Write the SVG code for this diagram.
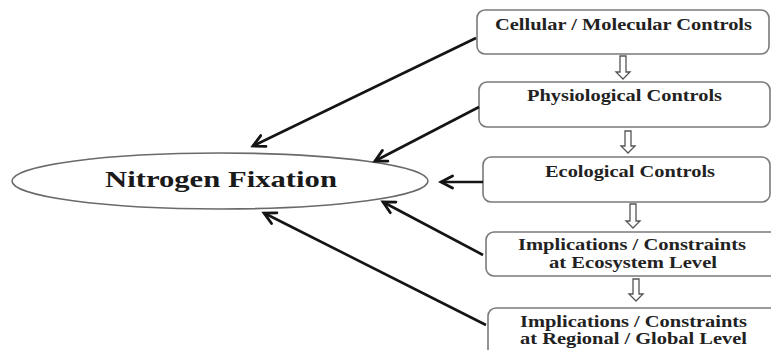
<svg xmlns="http://www.w3.org/2000/svg" width="771" height="350" viewBox="0 0 771 350">
<style>
.box{fill:#fff;stroke:#7a7a7a;stroke-width:1.6}
.t{font-family:"Liberation Serif","Times New Roman",serif;font-weight:bold;font-size:16px;fill:#222;text-anchor:start}
.big{font-family:"Liberation Serif","Times New Roman",serif;font-weight:bold;font-size:23px;fill:#1a1a1a}
.conn{stroke:#141414;stroke-width:2.6;fill:none;marker-end:url(#ah)}
.hollow{fill:#fff;stroke:#555;stroke-width:1.3;stroke-linejoin:miter}
</style>
<defs>
<marker id="ah" markerUnits="userSpaceOnUse" markerWidth="16" markerHeight="16" refX="13" refY="7" orient="auto" viewBox="0 0 16 14">
<path d="M1.5,1 L13,7 L1.5,13" fill="none" stroke="#141414" stroke-width="2.8" stroke-linecap="round" stroke-linejoin="miter"/>
</marker>
</defs>
<rect width="771" height="350" fill="#fff"/>

<g id="nitrogen-fixation">
<ellipse cx="220" cy="181" rx="208" ry="28" fill="#fff" stroke="#6a6a6a" stroke-width="1.6"/>
<text class="big" x="105" y="187" textLength="232" lengthAdjust="spacingAndGlyphs">Nitrogen Fixation</text>
</g>

<g id="cellular">
<rect class="box" x="477" y="10" width="292" height="44" rx="8"/>
<text class="t" x="495" y="30" textLength="257" lengthAdjust="spacingAndGlyphs">Cellular / Molecular Controls</text>
</g>

<g id="physiological">
<rect class="box" x="479" y="82" width="291" height="45" rx="8"/>
<text class="t" x="527" y="101" textLength="195" lengthAdjust="spacingAndGlyphs">Physiological Controls</text>
</g>

<g id="ecological">
<rect class="box" x="483" y="157" width="287" height="45" rx="8"/>
<text class="t" x="545" y="177" textLength="170" lengthAdjust="spacingAndGlyphs">Ecological Controls</text>
</g>

<g id="ecosystem">
<rect class="box" x="486" y="232" width="295" height="44" rx="8"/>
<text class="t" x="518" y="250" textLength="228" lengthAdjust="spacingAndGlyphs">Implications / Constraints</text>
<text class="t" x="549" y="268" textLength="168" lengthAdjust="spacingAndGlyphs">at Ecosystem Level</text>
</g>

<g id="regional">
<rect class="box" x="488" y="308" width="295" height="60" rx="8"/>
<text class="t" x="520" y="327" textLength="227" lengthAdjust="spacingAndGlyphs">Implications / Constraints</text>
<text class="t" x="520" y="344" textLength="227" lengthAdjust="spacingAndGlyphs">at Regional / Global Level</text>
</g>

<g id="connectors">
<line class="conn" x1="476" y1="38" x2="253" y2="146"/>
<line class="conn" x1="479" y1="107" x2="375" y2="161"/>
<line class="conn" x1="483" y1="182" x2="441" y2="182"/>
<line class="conn" x1="483" y1="255" x2="383" y2="202"/>
<line class="conn" x1="486" y1="325" x2="264" y2="213"/>
<path class="hollow" d="M620,56 H626 V72 H630 L623,79 L616,72 H620 Z"/>
<path class="hollow" d="M625,131 H631 V146 H635 L628,153 L621,146 H625 Z"/>
<path class="hollow" d="M630,204 H636 V221 H640 L633,228 L626,221 H630 Z"/>
<path class="hollow" d="M633,279 H639 V294 H643 L636,301 L629,294 H633 Z"/>
</g>
</svg>
